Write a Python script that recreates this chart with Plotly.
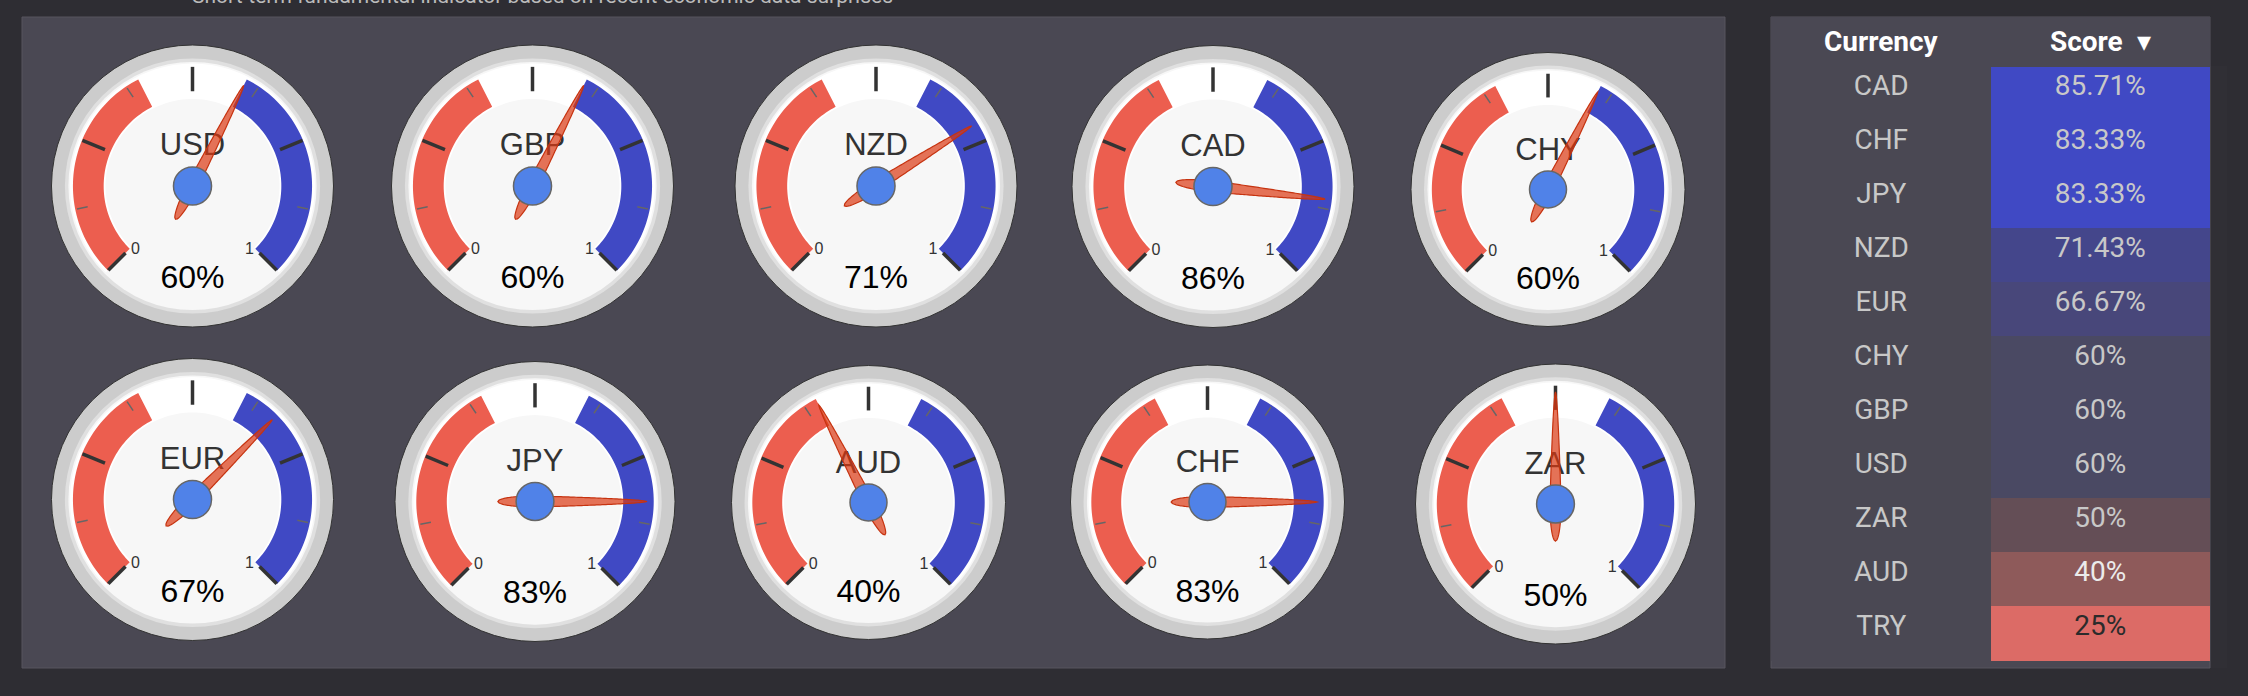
import math
import plotly.graph_objects as go

# ---------------- data ----------------
gauge_names = ["USD", "GBP", "NZD", "CAD", "CHY", "EUR", "JPY", "AUD", "CHF", "ZAR"]
gauge_scores = [60.0, 60.0, 71.43, 85.71, 60.0, 66.67, 83.33, 40.0, 83.33, 50.0]

table_currency = ["CAD", "CHF", "JPY", "NZD", "EUR", "CHY", "GBP", "USD", "ZAR", "AUD", "TRY"]
table_score = [85.71, 83.33, 83.33, 71.43, 66.67, 60, 60, 60, 50, 40, 25]

band_red = (0.0, 0.4)
band_blue = (0.6, 1.0)
range_labels = ["0", "1"]

subtitle = "Short-term fundamental indicator based on recent economic data surprises"

# ---------------- layout / styles ----------------
W, H = 2248, 696
BG = "#2e2d33"
PANEL = "#4a4853"
RED = "#ec5e4f"
BLUE = "#4049c4"

# gauge centres (px) and radii
gauge_pos = [
    (192.5, 186.0, 141), (532.5, 186.0, 141), (876.0, 186.0, 141), (1213.0, 186.5, 141), (1548.0, 189.5, 137),
    (192.5, 499.5, 141), (535.0, 501.5, 140), (868.5, 502.5, 137), (1207.5, 502.0, 137), (1555.5, 504.0, 140),
]

score_fill = ["#4049c4", "#4049c4", "#4049c4", "#44468b", "#48477a", "#4a4963", "#4a4963", "#4a4963",
              "#644e56", "#8e5a5a", "#dc6b66"]
score_font = ["#c8c8c8"] * 9 + ["#ebebeb", "#2b2b2b"]


def ang(v):
    return math.radians(-135 + 270 * v)


def pt(cx, cy, r, th):
    return cx + r * math.sin(th), cy - r * math.cos(th)


def arc_path(cx, cy, r_in, r_out, v0, v1, n=60):
    pts_o = [pt(cx, cy, r_out, ang(v0 + (v1 - v0) * i / n)) for i in range(n + 1)]
    pts_i = [pt(cx, cy, r_in, ang(v1 - (v1 - v0) * i / n)) for i in range(n + 1)]
    pts = pts_o + pts_i
    return "M " + " L ".join(f"{x:.2f},{y:.2f}" for x, y in pts) + " Z"


def poly_path(pts):
    return "M " + " L ".join(f"{x:.2f},{y:.2f}" for x, y in pts) + " Z"


shapes = []
# panels
shapes.append(dict(type="rect", xref="x", yref="y", x0=22, x1=1725, y0=17, y1=668,
                   fillcolor=PANEL, line=dict(color="#56555e", width=1), layer="below"))
shapes.append(dict(type="rect", xref="x", yref="y", x0=1771, x1=2210, y0=17, y1=668,
                   fillcolor=PANEL, line=dict(color="#56555e", width=1), layer="below"))


def circle(cx, cy, r, fill, lc, lw, layer="below"):
    return dict(type="circle", xref="x", yref="y", x0=cx - r, x1=cx + r, y0=cy - r, y1=cy + r,
                fillcolor=fill, line=dict(color=lc, width=lw), layer=layer)


title_x, title_y, title_t = [], [], []
val_x, val_y, val_t = [], [], []
lab_x, lab_y, lab_t = [], [], []

for (cx, cy, R), name, sc in zip(gauge_pos, gauge_names, gauge_scores):
    v = sc / 100.0
    shapes.append(circle(cx, cy, R, "#cccccc", "#333333", 1))
    shapes.append(circle(cx, cy, 0.905 * R, "#e0e0e0", "#e0e0e0", 0))
    shapes.append(circle(cx, cy, 0.88 * R, "#f7f7f7", "#f7f7f7", 0))
    # white band background
    shapes.append(dict(type="path", path=arc_path(cx, cy, 0.617 * R, 0.868 * R, 0, 1, 120),
                       fillcolor="#ffffff", line=dict(width=0), layer="below"))
    shapes.append(dict(type="path", path=arc_path(cx, cy, 0.63 * R, 0.848 * R, *band_red),
                       fillcolor=RED, line=dict(width=0), layer="below"))
    shapes.append(dict(type="path", path=arc_path(cx, cy, 0.63 * R, 0.848 * R, *band_blue),
                       fillcolor=BLUE, line=dict(width=0), layer="below"))
    # ticks
    for k in range(9):
        th = ang(k / 8)
        if k % 2 == 0:
            r0, r1, lw, col = 0.672 * R, 0.845 * R, 3.5, "#333333"
        else:
            r0, r1, lw, col = 0.758 * R, 0.835 * R, 1.5, "#666666"
        x0, y0 = pt(cx, cy, r0, th)
        x1, y1 = pt(cx, cy, r1, th)
        shapes.append(dict(type="line", xref="x", yref="y", x0=x0, y0=y0, x1=x1, y1=y1,
                           line=dict(color=col, width=lw), layer="below"))
    # range labels
    for lbl, a in zip(range_labels, (-138.3, 138.3)):
        lx, ly = pt(cx, cy, 0.608 * R, math.radians(a))
        lab_x.append(lx); lab_y.append(ly); lab_t.append(lbl)
    title_x.append(cx); title_y.append(cy - 0.272 * R); title_t.append(name)
    val_x.append(cx); val_y.append(cy + 0.668 * R); val_t.append(f"{round(sc):d}%")
    # needle (drawn above the texts)
    th = ang(v)
    d = (math.sin(th), -math.cos(th))
    p = (math.cos(th), math.sin(th))
    tail, tip, Wn = -0.265 * R, 0.80 * R, 5.6
    ts = [tail + (0 - tail) * i / 30 for i in range(31)] + [tip * i / 60 for i in range(1, 61)]
    ws = []
    for t in ts:
        if t < 0:
            ws.append(Wn * math.sqrt(max(0.0, 1 - (t / tail) ** 2)))
        else:
            ws.append(Wn * max(0.0, 1 - t / tip) ** 0.6)
    left = [(cx + t * d[0] + w * p[0], cy + t * d[1] + w * p[1]) for t, w in zip(ts, ws)]
    right = [(cx + t * d[0] - w * p[0], cy + t * d[1] - w * p[1]) for t, w in zip(ts, ws)]
    shapes.append(dict(type="path", path=poly_path(left + right[::-1]), layer="above",
                       fillcolor="rgba(220,57,18,0.7)", line=dict(color="#c63310", width=1.2)))
    shapes.append(circle(cx, cy, 0.135 * R, "#5082e8", "#666666", 1.5, layer="above"))

fig = go.Figure()

GFONT = "Liberation Sans, Arial, sans-serif"
fig.add_trace(go.Scatter(x=title_x, y=title_y, text=title_t, mode="text", hoverinfo="skip",
                         textfont=dict(family=GFONT, size=31, color="#333333"), showlegend=False))
fig.add_trace(go.Scatter(x=val_x, y=val_y, text=val_t, mode="text", hoverinfo="skip",
                         textfont=dict(family=GFONT, size=32, color="#000000"), showlegend=False))
fig.add_trace(go.Scatter(x=lab_x, y=lab_y, text=lab_t, mode="text", hoverinfo="skip",
                         textfont=dict(family=GFONT, size=16, color="#333333"), showlegend=False))

# table
score_text = [f"{s:g}%" for s in table_score]
fig.add_trace(go.Table(
    domain=dict(x=[1771 / W, 2210 / W], y=[1 - 668 / H, 1 - 17 / H]),
    columnwidth=[221, 218],
    header=dict(values=["<b>Currency</b>", "<b>Score</b>  ▾"],
                fill=dict(color=PANEL), line=dict(color=PANEL, width=1),
                font=dict(family="Roboto", size=28, color="#ffffff"), align="center", height=47),
    cells=dict(values=[table_currency, score_text],
               fill=dict(color=[[PANEL] * len(table_currency), score_fill]),
               line=dict(color=[[PANEL] * len(table_currency), score_fill], width=1),
               font=dict(family="Roboto", size=28,
                         color=[["#c8c8c8"] * len(table_currency), score_font]),
               align="center", height=54),
))

fig.add_annotation(x=542 / W, y=1 + 4.5 / H, xref="paper", yref="paper", text=subtitle, showarrow=False,
                   font=dict(family="Roboto", size=21, color="#bbbbbb"), yanchor="middle",
                   xanchor="center")

fig.update_layout(
    width=W, height=H, autosize=False,
    margin=dict(l=0, r=0, t=0, b=0),
    paper_bgcolor=BG, plot_bgcolor=BG,
    shapes=shapes,
    xaxis=dict(range=[0, W], visible=False, fixedrange=True),
    yaxis=dict(range=[H, 0], visible=False, fixedrange=True),
    showlegend=False,
)

fig.write_html("out.html", config={"displayModeBar": False},
               post_script="document.body.style.margin='0';document.body.style.overflow='hidden';")
